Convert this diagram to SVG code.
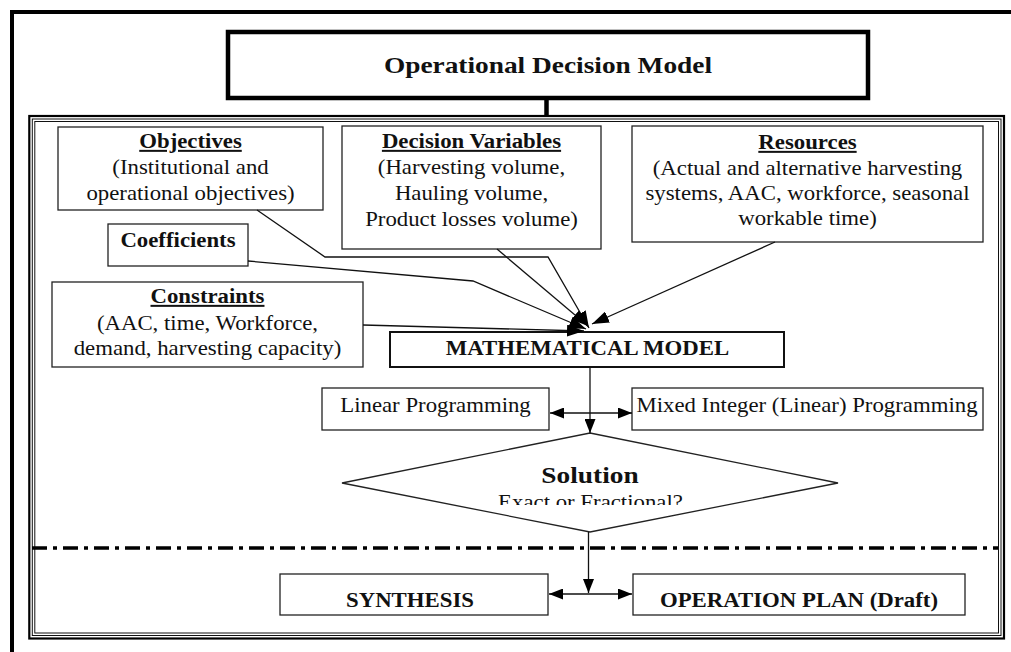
<svg xmlns="http://www.w3.org/2000/svg" width="1011" height="652" viewBox="0 0 1011 652">
<defs>
<style>
.t{font-family:"Liberation Serif","Times New Roman",serif;font-size:20px;fill:#111;text-anchor:middle}
.b{font-weight:bold}
.u{text-decoration:underline}
.box{fill:#fff;stroke:#222;stroke-width:1.3}
.ln{fill:none;stroke:#111;stroke-width:1.3}
</style>
<marker id="ah" viewBox="0 0 14 11" refX="14" refY="5.5" markerWidth="14" markerHeight="11" markerUnits="userSpaceOnUse" orient="auto-start-reverse">
<path d="M0,0 L14,5.5 L0,11 z" fill="#000"/>
</marker>
<marker id="ahb" viewBox="0 0 17 12" refX="17" refY="6" markerWidth="17" markerHeight="12" markerUnits="userSpaceOnUse" orient="auto">
<path d="M0,0 L17,6 L0,12 z" fill="#000"/>
</marker>
<clipPath id="clipq" clipPathUnits="userSpaceOnUse"><rect x="0" y="480" width="1000" height="25"/></clipPath>
</defs>
<rect width="1011" height="652" fill="#fff"/>

<g id="frame">
<path d="M12,652 V12 H1011" fill="none" stroke="#000" stroke-width="4"/>
<rect x="29.3" y="116" width="974.7" height="522.5" fill="none" stroke="#000" stroke-width="2.2"/>
<rect x="32.3" y="119" width="968.7" height="516.5" fill="none" stroke="#111" stroke-width="1"/>
<rect x="34.8" y="121.5" width="963.7" height="511.5" fill="none" stroke="#111" stroke-width="1"/>
<line x1="32" y1="548" x2="998" y2="548" stroke="#000" stroke-width="3.5" stroke-dasharray="15 6 4 6"/>
</g>

<g id="header">
<rect x="228" y="32" width="640" height="66" fill="#fff" stroke="#000" stroke-width="4.5"/>
<g transform="scale(1.14 1)"><text class="t b" x="480.70" y="73" style="font-size:24px">Operational Decision Model</text></g>
</g>

<g id="objectives">
<rect class="box" x="58" y="127" width="265" height="83"/>
<g transform="scale(1.14 1)">
<text class="t b u" x="167.11" y="148">Objectives</text>
<text class="t" x="167.11" y="174">(Institutional and</text>
<text class="t" x="167.11" y="200">operational objectives)</text>
</g>
</g>

<g id="decision-variables">
<rect class="box" x="342" y="126" width="259" height="123"/>
<g transform="scale(1.14 1)">
<text class="t b u" x="413.60" y="148">Decision Variables</text>
<text class="t" x="413.60" y="174">(Harvesting volume,</text>
<text class="t" x="413.60" y="200">Hauling volume,</text>
<text class="t" x="413.60" y="226">Product losses volume)</text>
</g>
</g>

<g id="resources">
<rect class="box" x="632" y="126" width="351" height="116"/>
<g transform="scale(1.14 1)">
<text class="t b u" x="708.33" y="149">Resources</text>
<text class="t" x="708.33" y="175">(Actual and alternative harvesting</text>
<text class="t" x="708.33" y="200">systems, AAC, workforce, seasonal</text>
<text class="t" x="708.33" y="225">workable time)</text>
</g>
</g>

<g id="coefficients">
<rect class="box" x="108" y="224" width="140" height="42"/>
<g transform="scale(1.14 1)"><text class="t b" x="156.14" y="247">Coefficients</text></g>
</g>

<g id="constraints">
<rect class="box" x="52" y="282" width="311" height="85"/>
<g transform="scale(1.14 1)">
<text class="t b u" x="182.02" y="303">Constraints</text>
<text class="t" x="182.02" y="330">(AAC, time, Workforce,</text>
<text class="t" x="182.02" y="355">demand, harvesting capacity)</text>
</g>
</g>

<g id="math-model">
<rect x="390" y="332" width="394" height="35" fill="#fff" stroke="#111" stroke-width="2"/>
<g transform="scale(1.14 1)"><text class="t b" x="515.35" y="355">MATHEMATICAL MODEL</text></g>
</g>

<g id="linear-programming">
<rect class="box" x="322" y="388" width="227" height="42"/>
<g transform="scale(1.14 1)"><text class="t" x="382.02" y="412">Linear Programming</text></g>
</g>

<g id="mixed-integer">
<rect class="box" x="632" y="388" width="351" height="42"/>
<g transform="scale(1.14 1)"><text class="t" x="707.89" y="412">Mixed Integer (Linear) Programming</text></g>
</g>

<g id="solution">
<polygon points="590,433 838,483 590,532 342,483" fill="#fff" stroke="#222" stroke-width="1.3"/>
<g transform="scale(1.14 1)">
<text class="t b" x="517.54" y="483" style="font-size:24px">Solution</text>
<g clip-path="url(#clipq)"><text class="t" x="517.98" y="509">Exact or Fractional?</text></g>
</g>
</g>

<g id="synthesis">
<rect class="box" x="280" y="574" width="268" height="41"/>
<g transform="scale(1.14 1)"><text class="t b" x="359.65" y="607">SYNTHESIS</text></g>
</g>

<g id="operation-plan">
<rect class="box" x="633" y="574" width="332" height="41"/>
<g transform="scale(1.14 1)"><text class="t b" x="700.88" y="607">OPERATION PLAN (Draft)</text></g>
</g>

<g id="connectors">
<line x1="546.5" y1="98" x2="546.5" y2="116" stroke="#000" stroke-width="4.5"/>
<polyline class="ln" points="257,210 325,257 548,257 589,328" marker-end="url(#ahb)"/>
<line class="ln" x1="497" y1="249" x2="588" y2="326" marker-end="url(#ahb)"/>
<line class="ln" x1="775" y1="242" x2="592" y2="324" marker-end="url(#ahb)"/>
<polyline class="ln" points="248,261 473,281 586,329" marker-end="url(#ahb)"/>
<line class="ln" x1="363" y1="325" x2="584" y2="331" marker-end="url(#ahb)"/>
<line class="ln" x1="590" y1="367" x2="590" y2="433" marker-end="url(#ah)"/>
<line class="ln" x1="550" y1="413" x2="632" y2="413" marker-start="url(#ah)" marker-end="url(#ah)"/>
<line class="ln" x1="588.5" y1="532" x2="588.5" y2="593" marker-end="url(#ah)"/>
<line class="ln" x1="549" y1="594" x2="632" y2="594" marker-start="url(#ah)" marker-end="url(#ah)"/>
</g>
</svg>
